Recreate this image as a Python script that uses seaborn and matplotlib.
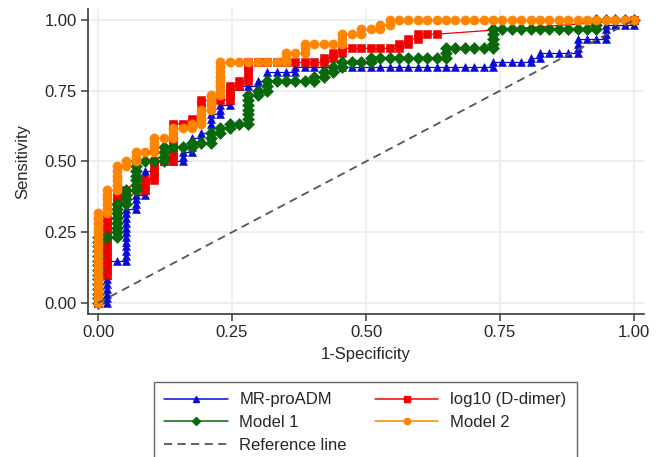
import numpy as np
import pandas as pd
import matplotlib
matplotlib.use("Agg")
import matplotlib.pyplot as plt
import seaborn as sns
from matplotlib.lines import Line2D

# ================= DATA =================
# counts behind the ROC steps
N_NEG = 57
N_POS = 60

# true positives reached at each false-positive count 0..57
# None = no cutoff at that count (tied values, straight jump)
mr_proadm_tp = ([0, 9, 9, 20, 23, 28, 30, 30, 30, 32, 35, 36, 40, 42, 46, 46, 46, 47, 49, 49, 49, 50]
                + [50] * 20
                + [51, 51, 51, 51, 52, 53, 53, 53, 53, 56, 56, 56, 59, 59, 59, 60])

d_dimer_tp = ([6, 19, 23, 24, 24, 26, 30, 30, 38, 38, 39, 43, 43, 43, 46, 47, 51]
              + [51] * 7
              + [52, 53, 54, 54, 54, 54, 54, 54, 55, 56, 57, 57, 57]
              + [None] * 20
              + [60])

model1_tp = ([14, 14, 21, 24, 30, 30, 30, 33, 33, 33, 34, 34, 36, 37, 38, 38, 44, 45, 47, 47, 47, 47, 47,
              48, 49, 50, 51, 51, 51]
             + [52] * 8
             + [54] * 5
             + [58] * 11
             + [60] * 5)

model2_tp = ([19, 24, 29, 30, 32, 32, 35, 35, 37, 37, 38, 41, 44, 51]
             + [51] * 6
             + [53, 53, 55, 55, 55, 55, 57, 57, 58, 58, 59, 60]
             + [60] * 26)

ref_line = [0, 1]

series_names = ["MR-proADM", "log10 (D-dimer)", "Model 1", "Model 2"]
series_tp = [mr_proadm_tp, d_dimer_tp, model1_tp, model2_tp]
colors = ["#0a0ad2", "#f00000", "#07690a", "#ff8400"]
markers = ["^", "s", "D", "o"]
msizes = [6.0, 5.6, 5.8, 6.6]
tick_vals = [0, 0.25, 0.5, 0.75, 1]
tick_labels = ["0.00", "0.25", "0.50", "0.75", "1.00"]


def roc_points(tp_top):
    # one point per cutoff: step right for a negative, up for each positive
    xs, ys = [0], [0]
    prev_k, prev_j = 0, 0
    for k, top in enumerate(tp_top):
        if top is None:
            continue
        if k - prev_k > 1:
            xs.append(k)
            ys.append(top)
        else:
            if k > 0:
                xs.append(k)
                ys.append(prev_j)
            for j in range(prev_j + 1, top + 1):
                xs.append(k)
                ys.append(j)
        prev_k, prev_j = k, top
    return pd.DataFrame({"fpr": np.array(xs) / N_NEG, "tpr": np.array(ys) / N_POS})


# ================= PLOT =================
sns.set_theme(style="white")
plt.rcParams["font.family"] = ["Liberation Sans", "DejaVu Sans"]

fig = plt.figure(figsize=(6.62, 4.57), dpi=100)
ax = fig.add_axes([88 / 662, 1 - 314 / 457, (644 - 88) / 662, (314 - 9) / 457])

for name, tp, c, m, ms in zip(series_names, series_tp, colors, markers, msizes):
    df = roc_points(tp)
    sns.lineplot(data=df, x="fpr", y="tpr", sort=False, estimator=None, ax=ax,
                 color=c, marker=m, markersize=ms, markeredgecolor=c, markeredgewidth=0.4,
                 linewidth=0.9)

ref_df = pd.DataFrame({"x": ref_line, "y": ref_line})
sns.lineplot(data=ref_df, x="x", y="y", ax=ax, color="#555555", linewidth=1.3,
             linestyle=(0, (4.5, 3)))

ax.set_xlim(-0.0187, 1.0187)
ax.set_ylim(-0.039, 1.039)
ax.set_xticks(tick_vals)
ax.set_xticklabels(tick_labels)
ax.set_yticks(tick_vals)
ax.set_yticklabels(tick_labels)
ax.grid(True, color="#e6eff1", linewidth=1.3)
ax.set_axisbelow(True)

for s in ["top", "right"]:
    ax.spines[s].set_visible(False)
for s in ["left", "bottom"]:
    ax.spines[s].set_color("#3a3a3a")
    ax.spines[s].set_linewidth(1.2)
ax.tick_params(axis="both", direction="out", length=5, width=1.1, color="#3a3a3a",
               labelsize=12, pad=3, bottom=True, left=True)

ax.set_xlabel("1-Specificity", fontsize=12, labelpad=5)
ax.set_ylabel("Sensitivity", fontsize=12, labelpad=10)

# ================= LEGEND =================
handles = [
    Line2D([], [], color=colors[0], marker=markers[0], markersize=4.5, linewidth=1.1),
    Line2D([], [], color=colors[2], marker=markers[2], markersize=4.2, linewidth=1.1),
    Line2D([], [], color="#555555", linestyle=(0, (4.5, 3)), linewidth=1.3),
    Line2D([], [], color=colors[1], marker=markers[1], markersize=4.2, linewidth=1.1),
    Line2D([], [], color=colors[3], marker=markers[3], markersize=4.5, linewidth=1.1),
]
labels = ["MR-proADM", "Model 1", "Reference line", "log10 (D-dimer)", "Model 2"]
leg = fig.legend(handles, labels, ncol=2, loc="upper left",
                 bbox_to_anchor=(154 / 662, 1 - 382 / 457), frameon=True, fancybox=False,
                 edgecolor="#404040", fontsize=12, handlelength=3.8, handletextpad=0.7,
                 columnspacing=1.7, labelspacing=0.47, borderpad=0.62, borderaxespad=0)
leg.get_frame().set_linewidth(1.0)

fig.savefig("out.png", dpi=100)
